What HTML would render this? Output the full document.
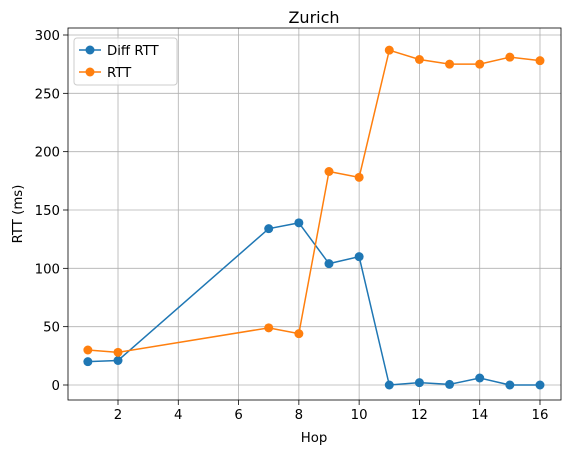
<!DOCTYPE html>
<html><head><meta charset="utf-8">
<style>
body{margin:0;background:#fff;}
svg text{font-family:"DejaVu Sans","Liberation Sans",sans-serif;fill:#000;}
</style></head>
<body>
<svg id="chart" width="571" height="455" xmlns="http://www.w3.org/2000/svg"></svg>
<script>
const hops = [1, 2, 7, 8, 9, 10, 11, 12, 13, 14, 15, 16];
const diffRtt = [20, 21, 134, 139, 104, 110, 0, 2, 0.5, 6, 0, 0];
const rtt = [30, 28, 49, 44, 183, 178, 287, 279, 275, 275, 281, 278];
const xTicks = [2, 4, 6, 8, 10, 12, 14, 16];
const yTicks = [0, 50, 100, 150, 200, 250, 300];

const L = 68, R = 561, T = 28, B = 400;
const xMin = 0.341, xMax = 16.697, yMin = -12.86, yMax = 306;
const sx = v => L + (v - xMin) / (xMax - xMin) * (R - L);
const sy = v => B - (v - yMin) / (yMax - yMin) * (B - T);
const NS = "http://www.w3.org/2000/svg";
const svg = document.getElementById("chart");
function mk(tag, attrs, parent) {
  const e = document.createElementNS(NS, tag);
  for (const k in attrs) e.setAttribute(k, attrs[k]);
  (parent || svg).appendChild(e);
  return e;
}
const grid = mk("g", {});


xTicks.forEach(t => {
  mk("line", {x1: sx(t), x2: sx(t), y1: T, y2: B, stroke: "#b0b0b0", "stroke-width": 0.8}, grid);
});
yTicks.forEach(t => {
  mk("line", {x1: L, x2: R, y1: sy(t), y2: sy(t), stroke: "#b0b0b0", "stroke-width": 0.8}, grid);
});
const xAxis = mk("g", {});


xTicks.forEach(t => {
  mk("line", {x1: sx(t), x2: sx(t), y1: B, y2: B + 5, stroke: "#000", "stroke-width": 0.8}, xAxis);
  const tx = mk("text", {x: sx(t), y: B + 19, "text-anchor": "middle", "font-size": 13.3}, xAxis);
  tx.textContent = t;
});
const yAxis = mk("g", {});


yTicks.forEach(t => {
  mk("line", {x1: L - 5, x2: L, y1: sy(t), y2: sy(t), stroke: "#000", "stroke-width": 0.8}, yAxis);
  const tx = mk("text", {x: L - 8, y: sy(t) + 5, "text-anchor": "end", "font-size": 13.3}, yAxis);
  tx.textContent = t;
});
function series(vals, color, name) {
  const g = mk("g", {});
  
  
  mk("polyline", {points: hops.map((h, i) => sx(h) + "," + sy(vals[i])).join(" "), fill: "none", stroke: color, "stroke-width": 1.5}, g);
  hops.forEach((h, i) => {
    const c = mk("circle", {cx: sx(h), cy: sy(vals[i]), r: 4.5, fill: color}, g);
    
    
  });
}
series(diffRtt, "#1f77b4", "diff-rtt-series");
series(rtt, "#ff7f0e", "rtt-series");
mk("rect", {x: L, y: T, width: R - L, height: B - T, fill: "none", stroke: "#000", "stroke-width": 0.8});
</script>
<div style="position:absolute;left:0;top:0;width:571px;height:455px;pointer-events:none">
  <svg width="571" height="455" xmlns="http://www.w3.org/2000/svg" style="position:absolute;left:0;top:0">
    <text x="314" y="23" text-anchor="middle" font-size="16">Zurich</text>
    <text x="314" y="442" text-anchor="middle" font-size="13.3">Hop</text>
    <text x="0" y="0" transform="translate(22,214) rotate(-90)" text-anchor="middle" font-size="13.3">RTT (ms)</text>
    <g>
      <rect x="74" y="38" width="103" height="47" rx="3" fill="#fff" fill-opacity="0.8" stroke="#ccc"/>
      <g>
        <line x1="79" x2="101" y1="50" y2="50" stroke="#1f77b4" stroke-width="1.5"/>
        <circle cx="90" cy="50" r="4.5" fill="#1f77b4"/>
        <text x="107" y="55" font-size="13.3">Diff RTT</text>
      </g>
      <g>
        <line x1="79" x2="101" y1="72" y2="72" stroke="#ff7f0e" stroke-width="1.5"/>
        <circle cx="90" cy="72" r="4.5" fill="#ff7f0e"/>
        <text x="107" y="77" font-size="13.3">RTT</text>
      </g>
    </g>
  </svg>
</div>
</body></html>
